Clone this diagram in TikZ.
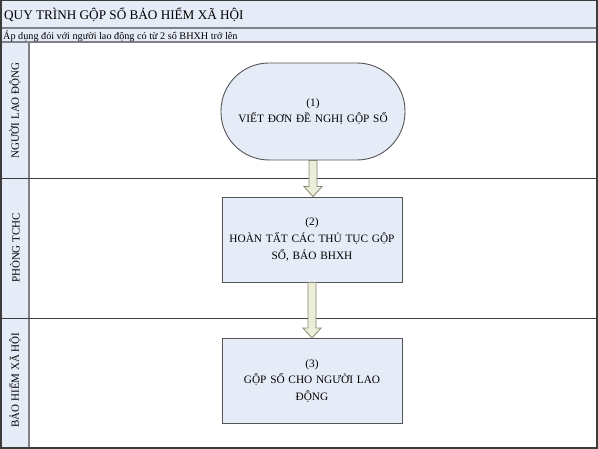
\documentclass[tikz,border=0pt]{standalone}
\usepackage{fontspec}
\setmainfont{Liberation Serif}
\usetikzlibrary{calc}
\definecolor{lanefill}{RGB}{230,236,247}
\definecolor{bord}{RGB}{60,60,60}
\definecolor{sepgray}{RGB}{128,128,136}
\definecolor{arrfill}{RGB}{236,238,218}
\definecolor{arrline}{RGB}{135,135,115}
\definecolor{boxline}{RGB}{85,85,85}
\begin{document}
\begin{tikzpicture}[x=1pt,y=-1pt,
  procbox/.style={draw=boxline, fill=lanefill, line width=0.9pt, minimum width=180pt,
    minimum height=85pt, align=center, text width=176pt, inner sep=0pt,
    font=\fontsize{11.3}{16.8}\selectfont},
  startbox/.style={procbox, minimum width=184pt, minimum height=97pt, rounded corners=48pt},
  lanelabel/.style={rotate=90, font=\fontsize{11}{12}\selectfont, inner sep=0pt},
  blockarrow/.style={draw=arrline, fill=arrfill, line width=0.8pt, line join=miter},
  lanesep/.style={draw=bord, line width=0.9pt},
  bandsep/.style={draw=sepgray, line width=2pt}]
\useasboundingbox (0,0) rectangle (598,449);
\fill[white] (0,0) rectangle (598,449);
% bands
\fill[lanefill] (0,0) rectangle (597,42);
\fill[lanefill] (0,43) rectangle (29,448);
\draw[bandsep] (0,28.5) -- (597,28.5);
\draw[bandsep] (0,42.5) -- (597,42.5);
\draw[sepgray, line width=1.6pt] (29,43) -- (29,448);
\draw[lanesep] (0,178) -- (597,178);
\draw[lanesep] (0,318) -- (597,318);
\draw[bord, line width=1.5pt] (0.75,0.75) rectangle (597,448);
% texts
\node[anchor=west, inner sep=0pt, font=\fontsize{13.2}{15}\selectfont] (title) at (4,15)
  {QUY TRÌNH GỘP SỔ BẢO HIỂM XÃ HỘI};
\node[anchor=west, inner sep=0pt, font=\fontsize{10.2}{12}\selectfont] (sub) at (3,36)
  {Áp dụng đói với người lao động có từ 2 sổ BHXH trở lên};
\node[lanelabel] (l1) at (15,110.5) {NGƯỜI LAO ĐỘNG};
\node[lanelabel] (l2) at (15,248) {PHÒNG TCHC};
\node[lanelabel] (l3) at (15,380) {BẢO HIỂM XÃ HỘI};
% boxes
\node[startbox] (b1) at (313,111.5) {(1)\\VIẾT ĐƠN ĐỀ NGHỊ GỘP SỔ};
\node[procbox] (b2) at (312,239.5) {(2)\\HOÀN TẤT CÁC THỦ TỤC GỘP\\SỔ, BÁO BHXH};
\node[procbox] (b3) at (312,381) {(3)\\GỘP SỔ CHO NGƯỜI LAO\\ĐỘNG};
% block arrows
\draw[blockarrow] let \p1=(b1.south), \p2=(b2.north) in
  (\x1-4pt,\y1) -- (\x1-4pt,\y2+10pt) -- (\x1-9pt,\y2+10pt) -- (\x1,\y2)
  -- (\x1+9pt,\y2+10pt) -- (\x1+4pt,\y2+10pt) -- (\x1+4pt,\y1) -- cycle;
\draw[blockarrow] let \p1=(b2.south), \p2=(b3.north) in
  (\x1-4pt,\y1) -- (\x1-4pt,\y2+10pt) -- (\x1-9pt,\y2+10pt) -- (\x1,\y2)
  -- (\x1+9pt,\y2+10pt) -- (\x1+4pt,\y2+10pt) -- (\x1+4pt,\y1) -- cycle;
\end{tikzpicture}
\end{document}
